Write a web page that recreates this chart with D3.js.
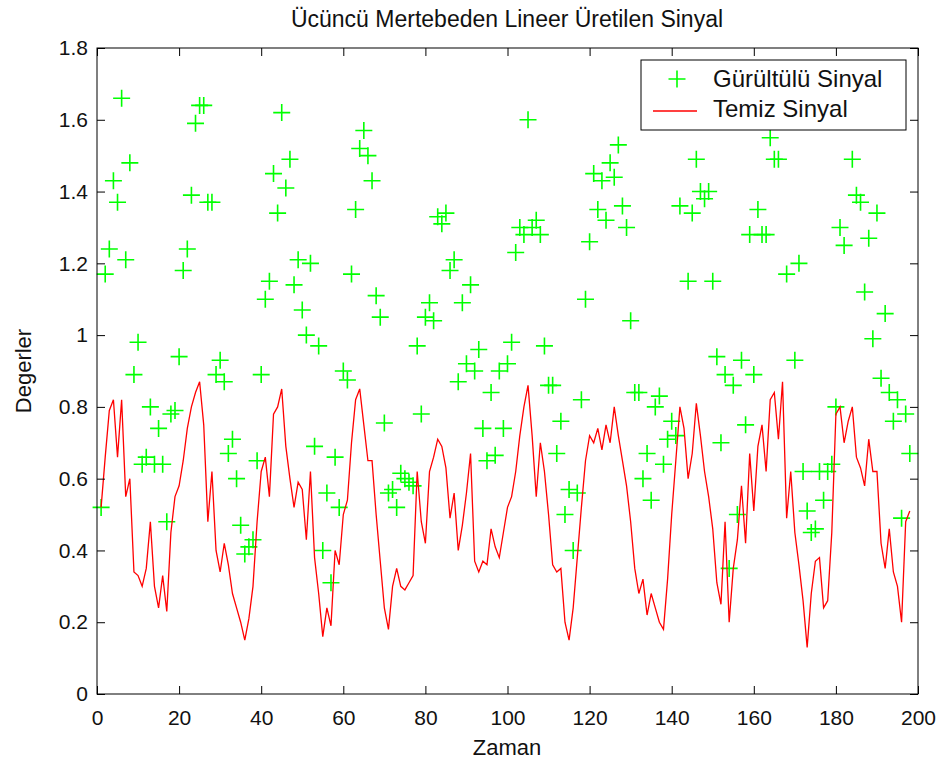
<!DOCTYPE html>
<html>
<head>
<meta charset="utf-8">
<script src="https://cdn.jsdelivr.net/npm/d3@7"></script>
<style>
  html, body { margin: 0; padding: 0; background: #fff; }
  svg { display: block; }
  text { font-family: "Liberation Sans", Arial, sans-serif; fill: #111; }
</style>
</head>
<body>
<div id="chart"></div>
<script>
// <-- Data -->
// noisy samples, index 1..198 (null = hidden behind the legend)
var noisy = [
  0.52,1.17,1.24,1.43,1.37,1.66,1.21,1.48,0.89,0.98,
  0.64,0.66,0.80,0.64,0.74,0.64,0.48,0.78,0.79,0.94,
  1.18,1.24,1.39,1.59,1.64,1.64,1.37,1.37,0.89,0.93,
  0.87,0.67,0.71,0.60,0.47,0.39,0.41,0.43,0.65,0.89,
  1.10,1.15,1.45,1.34,1.62,1.41,1.49,1.14,1.21,1.07,
  1.00,1.20,0.69,0.97,0.40,0.56,0.31,0.66,0.52,0.90,
  0.875,1.17,1.35,1.52,1.57,1.50,1.43,1.11,1.05,0.755,
  0.56,0.57,0.52,0.615,0.60,0.59,0.58,0.97,0.78,1.05,
  1.09,1.04,1.33,1.31,1.34,1.18,1.21,0.87,1.09,0.92,
  1.14,0.90,0.96,0.74,0.65,0.84,0.665,0.90,0.74,0.92,
  0.98,1.23,1.30,1.28,1.60,1.30,1.32,1.28,0.97,0.86,
  0.86,0.67,0.76,0.50,0.57,0.40,0.56,0.82,1.10,1.26,
  1.45,1.35,1.43,1.32,1.48,1.44,1.53,1.36,1.30,1.04,
  0.84,0.84,0.60,0.67,0.54,0.80,0.83,0.64,0.71,0.76,
  0.72,1.36,null,1.15,1.34,1.49,1.40,1.38,1.40,1.15,
  0.94,0.70,0.89,0.35,0.86,0.50,0.93,0.75,1.28,0.89,
  1.35,1.28,1.28,1.55,1.49,1.49,null,1.17,null,0.93,
  1.20,0.62,0.51,0.45,0.46,0.62,0.54,0.62,0.64,0.80,
  1.30,1.25,null,1.49,1.39,1.37,1.12,1.27,0.99,1.34,
  0.88,1.06,0.84,0.76,0.82,0.49,0.78,0.67
];
// clean signal, index 1..198
var clean = [
  0.52,0.66,0.79,0.82,0.66,0.82,0.55,0.60,0.34,0.33,
  0.30,0.35,0.48,0.30,0.24,0.33,0.23,0.45,0.55,0.58,
  0.65,0.74,0.80,0.84,0.87,0.75,0.48,0.62,0.40,0.34,
  0.42,0.36,0.28,0.24,0.20,0.15,0.21,0.30,0.48,0.62,
  0.66,0.55,0.78,0.80,0.85,0.69,0.60,0.52,0.59,0.57,
  0.43,0.62,0.38,0.28,0.16,0.24,0.19,0.40,0.36,0.50,
  0.54,0.70,0.82,0.85,0.75,0.65,0.65,0.50,0.37,0.24,
  0.18,0.30,0.35,0.30,0.29,0.31,0.33,0.62,0.48,0.42,
  0.62,0.66,0.71,0.69,0.63,0.49,0.56,0.40,0.47,0.56,
  0.67,0.37,0.34,0.37,0.36,0.46,0.41,0.38,0.45,0.52,
  0.55,0.62,0.72,0.80,0.86,0.72,0.55,0.70,0.62,0.50,
  0.36,0.34,0.35,0.20,0.15,0.24,0.38,0.52,0.65,0.72,
  0.70,0.74,0.68,0.75,0.70,0.80,0.72,0.65,0.58,0.48,
  0.35,0.28,0.32,0.22,0.28,0.24,0.20,0.18,0.32,0.50,
  0.65,0.80,0.74,0.60,0.67,0.81,0.72,0.62,0.55,0.46,
  0.31,0.25,0.48,0.20,0.35,0.43,0.58,0.42,0.67,0.51,
  0.69,0.75,0.62,0.82,0.84,0.71,0.87,0.49,0.62,0.45,
  0.36,0.26,0.13,0.28,0.37,0.38,0.24,0.26,0.45,0.78,
  0.80,0.70,0.76,0.80,0.66,0.63,0.58,0.71,0.62,0.62,
  0.42,0.35,0.46,0.34,0.30,0.20,0.48,0.51
];
var xTicks = [0,20,40,60,80,100,120,140,160,180,200];
var yTicks = [0,0.2,0.4,0.6,0.8,1,1.2,1.4,1.6,1.8];
var yTickLabels = ["0","0.2","0.4","0.6","0.8","1","1.2","1.4","1.6","1.8"];
var seriesNames = ["Gürültülü Sinyal","Temiz Sinyal"];
var title = "Ücüncü Mertebeden Lineer Üretilen Sinyal";
var xLabel = "Zaman";
var yLabel = "Degerler";

;(function(){
  var width = 951, height = 767;
  var m = {left: 97, top: 48, right: 33, bottom: 73};
  var green = "#00ff00", red = "#ff0000";

  var svg = d3.select("#chart").append("svg")
              .attr("width", width)
              .attr("height", height);

  var x = d3.scaleLinear().domain([0,200]).range([m.left, width - m.right]);
  var y = d3.scaleLinear().domain([0,1.8]).range([height - m.bottom, m.top]);

  var pts = noisy.map(function(v,i){ return {x: i+1, y: v}; })
                 .filter(function(d){ return d.y != null; });
  var line_pts = clean.map(function(v,i){ return {x: i+1, y: v}; });

  // noisy markers
  var s = 8.5;
  svg.append("g").selectAll("path")
     .data(pts).enter()
     .append("path")
     .attr("d", function(d){
       var cx = x(d.x), cy = y(d.y);
       return "M" + (cx-s) + "," + cy + "H" + (cx+s) + "M" + cx + "," + (cy-s) + "V" + (cy+s);
     })
     .attr("stroke", green)
     .attr("stroke-width", 1.6)
     .attr("fill", "none");

  // clean line
  var path = d3.line().x(function(d){ return x(d.x); }).y(function(d){ return y(d.y); });
  svg.append("path")
     .datum(line_pts)
     .attr("d", path)
     .attr("fill", "none")
     .attr("stroke", red)
     .attr("stroke-width", 1.3);

  // axes, ticks inward on all sides
  var fs = "21px";
  var gx = svg.append("g").attr("transform", "translate(0," + (height - m.bottom) + ")")
              .call(d3.axisBottom(x).tickValues(xTicks).tickSize(-8).tickPadding(16));
  var gy = svg.append("g").attr("transform", "translate(" + m.left + ",0)")
              .call(d3.axisLeft(y).tickValues(yTicks).tickSize(-8).tickPadding(9)
                    .tickFormat(function(d,i){ return yTickLabels[i]; }));
  var gt = svg.append("g").attr("transform", "translate(0," + m.top + ")")
              .call(d3.axisTop(x).tickValues(xTicks).tickSize(-8).tickFormat(""));
  var gr = svg.append("g").attr("transform", "translate(" + (width - m.right) + ",0)")
              .call(d3.axisRight(y).tickValues(yTicks).tickSize(-8).tickFormat(""));
  [gx, gy, gt, gr].forEach(function(g){
    g.select(".domain").remove();
    g.selectAll("line").attr("stroke", "#000");
    g.selectAll("text").style("font-size", fs).attr("fill", "#111")
     .style("font-family", "'Liberation Sans', Arial, sans-serif");
  });
  svg.append("rect")
     .attr("x", m.left).attr("y", m.top)
     .attr("width", width - m.left - m.right)
     .attr("height", height - m.top - m.bottom)
     .attr("fill", "none").attr("stroke", "#000").attr("stroke-width", 1);

  // title & labels
  svg.append("text").attr("x", 507).attr("y", 27)
     .attr("text-anchor", "middle").style("font-size", "23px").text(title);
  svg.append("text").attr("x", 507).attr("y", 755)
     .attr("text-anchor", "middle").style("font-size", "22px").text(xLabel);
  svg.append("text").attr("transform", "translate(31,371) rotate(-90)")
     .attr("text-anchor", "middle").style("font-size", "22px").text(yLabel);

  // legend
  var lg = svg.append("g");
  lg.append("rect").attr("x", 641).attr("y", 60).attr("width", 265).attr("height", 70)
    .attr("fill", "#fff").attr("stroke", "#000").attr("stroke-width", 1);
  lg.append("path")
    .attr("d", "M" + (677-s) + ",79H" + (677+s) + "M677," + (79-s) + "V" + (79+s))
    .attr("stroke", green).attr("stroke-width", 1.6);
  lg.append("line").attr("x1", 653).attr("x2", 697).attr("y1", 111).attr("y2", 111)
    .attr("stroke", red).attr("stroke-width", 1.3);
  lg.append("text").attr("x", 713).attr("y", 87).style("font-size", "24px").text(seriesNames[0]);
  lg.append("text").attr("x", 713).attr("y", 117).style("font-size", "24px").text(seriesNames[1]);
})();
</script>
</body>
</html>
